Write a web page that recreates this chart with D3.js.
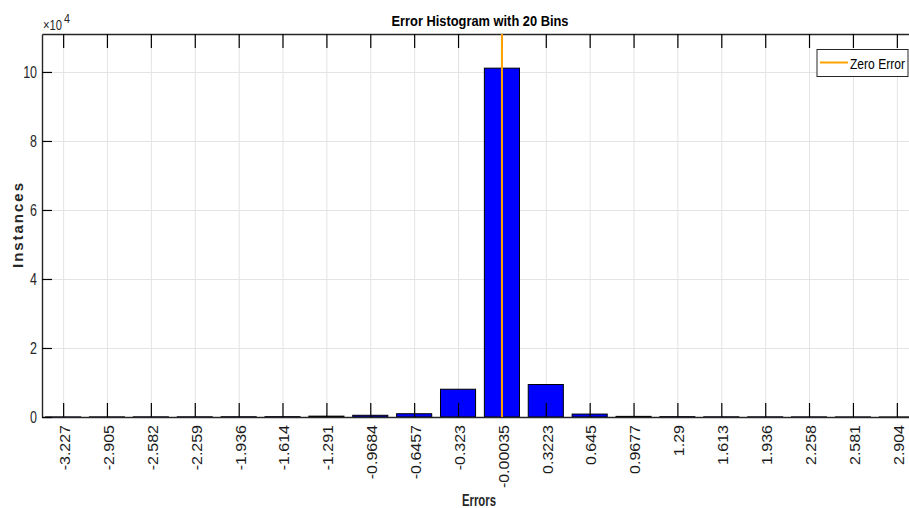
<!DOCTYPE html>
<html>
<head>
<meta charset="utf-8">
<script src="https://cdn.jsdelivr.net/npm/d3@7"></script>
<style>
  html, body { margin: 0; padding: 0; background: #fff; overflow: hidden; }
  text { font-family: "Liberation Sans", Arial, sans-serif; }
</style>
</head>
<body>
<div id="chart"></div>
<script>
// Data
const binCenters = [-3.227, -2.905, -2.582, -2.259, -1.936, -1.614, -1.291, -0.9684, -0.6457, -0.323,
  -0.00035, 0.3223, 0.645, 0.9677, 1.29, 1.613, 1.936, 2.258, 2.581, 2.904];
const binLabels = ["-3.227", "-2.905", "-2.582", "-2.259", "-1.936", "-1.614", "-1.291", "-0.9684", "-0.6457", "-0.323",
  "-0.00035", "0.3223", "0.645", "0.9677", "1.29", "1.613", "1.936", "2.258", "2.581", "2.904"];
const instances = [30, 40, 50, 60, 80, 100, 250, 500, 950, 8050, 101100, 9420, 850, 180, 100, 60, 50, 40, 30, 20];
const yTicks = [0, 20000, 40000, 60000, 80000, 100000];
const zeroError = 0;

const W = 909, H = 508;
const margin = { top: 34, left: 42 };
const plotW = 876, plotH = 383;
const binWidth = 0.32265;

const svg = d3.select("#chart").append("svg")
  .attr("width", W).attr("height", H);

const g = svg.append("g")
  .attr("transform", "translate(" + margin.left + "," + margin.top + ")");

// scales
const x = d3.scaleLinear().domain([-3.3825, 3.0595]).range([0, plotW]);
const y = d3.scaleLinear().domain([0, 111000]).range([plotH, 0]);

// grid
g.append("g")
  .attr("transform", "translate(0," + plotH + ")")
  .call(d3.axisBottom(x).tickValues(binCenters).tickSize(-plotH).tickFormat(""))
  .call(s => s.select(".domain").remove())
  .call(s => s.selectAll("line").attr("stroke", "#e3e3e3"));
g.append("g")
  .call(d3.axisLeft(y).tickValues(yTicks).tickSize(-plotW).tickFormat(""))
  .call(s => s.select(".domain").remove())
  .call(s => s.selectAll("line").attr("stroke", "#e3e3e3"));

// bars
g.selectAll("rect.bar")
  .data(instances)
  .enter()
  .append("rect")
  .attr("class", "bar")
  .attr("x", (d, i) => x(binCenters[i] - binWidth * 0.4))
  .attr("width", (d, i) => x(binCenters[i] + binWidth * 0.4) - x(binCenters[i] - binWidth * 0.4))
  .attr("y", d => y(d))
  .attr("height", d => y(0) - y(d))
  .attr("fill", "#0000ff")
  .attr("stroke", "#000")
  .attr("stroke-width", 1);

// axes
const axisColor = "#262626";

g.append("g")
  .attr("transform", "translate(0," + plotH + ")")
  .call(d3.axisBottom(x).tickValues(binCenters).tickSize(-14).tickSizeOuter(0)
    .tickFormat((d, i) => binLabels[i]))
  .call(s => s.select(".domain").attr("stroke", axisColor).attr("stroke-width", 1.4))
  .call(s => s.selectAll("line").attr("stroke", "#000").attr("stroke-width", 1.2))
  .call(s => s.selectAll("text")
    .attr("x", 0).attr("y", 0)
    .attr("dy", "0.36em")
    .attr("transform", "translate(1,8) scale(0.92,1) rotate(-90)")
    .style("text-anchor", "end")
    .style("font-size", "16px")
    .attr("fill", "#1a1a1a"));

g.append("g")
  .call(d3.axisTop(x).tickValues(binCenters).tickSize(-14).tickSizeOuter(0).tickFormat(""))
  .call(s => s.select(".domain").attr("stroke", axisColor).attr("stroke-width", 1.4))
  .call(s => s.selectAll("line").attr("stroke", "#000").attr("stroke-width", 1.2));

g.append("g")
  .call(d3.axisLeft(y).tickValues(yTicks).tickSize(-10).tickSizeOuter(0)
    .tickFormat(d => d / 10000))
  .call(s => s.select(".domain").attr("stroke", axisColor).attr("stroke-width", 1.4))
  .call(s => s.selectAll("line").attr("stroke", "#000").attr("stroke-width", 1.2))
  .call(s => s.selectAll("text")
    .attr("x", 0)
    .attr("transform", "translate(-5,0) scale(0.78,1)")
    .style("font-size", "16px")
    .attr("fill", axisColor));

// zero error line, drawn over the ticks
g.append("line")
  .attr("x1", x(zeroError)).attr("x2", x(zeroError))
  .attr("y1", 0).attr("y2", plotH)
  .attr("stroke", "#ffa200")
  .attr("stroke-width", 2);

// exponent
svg.append("text")
  .attr("x", 43).attr("y", 30)
  .attr("textLength", 19).attr("lengthAdjust", "spacingAndGlyphs")
  .style("font-size", "15px").attr("fill", axisColor)
  .text("\u00d710");
svg.append("text")
  .attr("x", 64).attr("y", 23)
  .attr("textLength", 6).attr("lengthAdjust", "spacingAndGlyphs")
  .style("font-size", "12px").attr("fill", axisColor)
  .text("4");

// title and labels
svg.append("text")
  .attr("x", 480).attr("y", 26)
  .attr("text-anchor", "middle")
  .attr("textLength", 177).attr("lengthAdjust", "spacingAndGlyphs")
  .style("font-size", "15px").style("font-weight", "bold")
  .attr("fill", "#000")
  .text("Error Histogram with 20 Bins");

svg.append("text")
  .attr("x", 479).attr("y", 506)
  .attr("text-anchor", "middle")
  .attr("textLength", 34).attr("lengthAdjust", "spacingAndGlyphs")
  .style("font-size", "16px").style("font-weight", "bold")
  .attr("fill", axisColor)
  .text("Errors");

svg.append("text")
  .attr("transform", "translate(22.5,225.5) rotate(-90)")
  .attr("text-anchor", "middle")
  .attr("textLength", 85)
  .style("font-size", "15px").style("font-weight", "bold")
  .attr("fill", axisColor)
  .text("Instances");

// legend
const legend = svg.append("g").attr("transform", "translate(817,49.5)");
legend.append("rect")
  .attr("width", 91).attr("height", 27)
  .attr("fill", "#fff").attr("stroke", axisColor).attr("stroke-width", 1);
legend.append("line")
  .attr("x1", 3).attr("x2", 31).attr("y1", 13).attr("y2", 13)
  .attr("stroke", "#ffa200").attr("stroke-width", 2);
legend.append("text")
  .attr("x", 33).attr("y", 19)
  .attr("textLength", 55).attr("lengthAdjust", "spacingAndGlyphs")
  .style("font-size", "15px").attr("fill", "#000")
  .text("Zero Error");
</script>
</body>
</html>
